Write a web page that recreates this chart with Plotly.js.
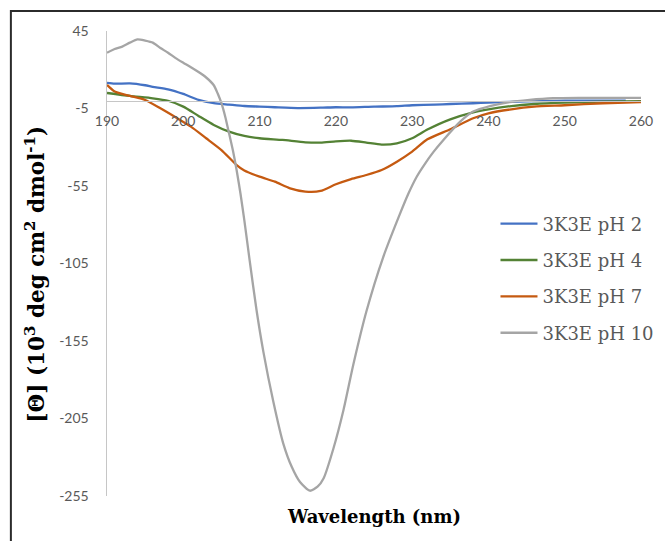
<!DOCTYPE html>
<html>
<head>
<meta charset="utf-8">
<script src="https://cdn.plot.ly/plotly-3.0.1.min.js"></script>
<style>
  html, body { margin: 0; padding: 0; background: #ffffff; }
  #chart { width: 665px; height: 541px; }
</style>
</head>
<body>
<div id="chart"></div>
<script>
// ---- data ----
const seriesNames = ["3K3E pH 2", "3K3E pH 4", "3K3E pH 7", "3K3E pH 10"];
const xTicks = [190, 200, 210, 220, 230, 240, 250, 260];
const yTicks = [45, -5, -55, -105, -155, -205, -255];

const wlPH2 = [190, 191, 193, 195, 196, 198, 200, 202, 204, 206, 208, 210, 212, 215, 218, 220, 222, 225, 228, 230, 233, 235, 238, 240, 243, 245, 248, 250, 255, 258];
const thPH2 = [11.5, 11, 11.2, 10, 9, 7.4, 4.4, 0.5, -1.6, -2.5, -3.4, -3.8, -4.2, -4.7, -4.5, -4.2, -4.3, -3.8, -3.5, -2.9, -2.5, -2.1, -1.6, -1.2, -0.7, -0.4, -0.2, 0, 0, 0];

const wlPH4 = [190, 193, 196, 198, 200, 202, 204, 206, 208, 210, 213, 216, 218, 220, 222, 224, 226, 228, 230, 232, 235, 238, 240, 243, 246, 250, 255, 260];
const thPH4 = [5, 3.1, 1.6, 0, -3.8, -9.8, -15.6, -19.9, -22.7, -24.2, -25.3, -26.8, -27, -26.2, -25.8, -27, -28.3, -27.5, -24.2, -18.6, -12, -7.5, -5.5, -3.4, -2.1, -1.2, -0.6, -0.3];

const wlPH7 = [190, 191, 193, 195, 197, 199, 201, 203, 205, 207, 208, 210, 212, 214, 216, 218, 220, 222, 224, 226, 228, 230, 232, 235, 238, 240, 243, 246, 250, 255, 260];
const thPH7 = [10.2, 5.9, 3.1, 0.5, -4.9, -10.7, -16.7, -24.2, -31.8, -41.5, -45, -49, -52.2, -56.5, -58.6, -58.2, -53.9, -50.5, -47.9, -44.7, -39.3, -32.8, -24.9, -18.4, -11.3, -8.1, -5.5, -3.8, -2.9, -1.6, -0.8];

const wlPH10 = [190, 191, 192, 193, 194, 195, 196, 197, 198, 199, 200, 201, 202, 203, 204, 204.5, 205, 205.5, 206, 206.5, 207, 207.5, 208, 208.7, 209.6, 210.5, 211.8, 213.1, 214.2, 215.3, 216.6, 217.6, 218.4, 219.7, 221, 222.3, 224, 226.2, 228.4, 229.5, 230.6, 231.7, 232.8, 234.1, 236.3, 238, 240.2, 242.4, 245.4, 248.5, 252, 256, 260];
const thPH10 = [31, 33.4, 34.9, 37.5, 39.6, 38.8, 37.5, 34, 31, 27.5, 24.5, 21.6, 18.5, 15, 10, 4.8, -1.6, -10.3, -21, -32, -45, -60, -77, -103, -135, -162, -194, -221, -236, -246, -251.6, -249, -243.5, -224, -199.5, -170, -136, -101, -73, -60, -49, -40.5, -33, -25.3, -13.5, -7, -3.4, -1.2, 0.5, 1.6, 1.8, 1.8, 1.8];

const colors = ["#4472C4", "#548235", "#C55A11", "#A5A5A5"];
const xs = [wlPH2, wlPH4, wlPH7, wlPH10];
const ys = [thPH2, thPH4, thPH7, thPH10];

const traces = seriesNames.map((n, i) => ({
  type: "scatter",
  mode: "lines",
  name: n,
  x: xs[i],
  y: ys[i],
  legendgroup: "g" + i,
  line: { color: colors[i], width: 2.3, shape: "spline", smoothing: 0.6 }
}));

const axisGray = "#c6c6c6";
const tickFont = { family: "Lato, 'Open Sans', sans-serif", size: 14, color: "#595959" };

const layout = {
  width: 665,
  height: 541,
  paper_bgcolor: "#ffffff",
  plot_bgcolor: "#ffffff",
  margin: { l: 107, r: 24, t: 31, b: 45, autoexpand: false },
  showlegend: true,
  legend: {
    x: 0.7275, y: 0.625, xanchor: "left", yanchor: "top",
    font: { family: "'DejaVu Serif', serif", size: 18, color: "#595959" },
    tracegroupgap: 10,
    itemwidth: 37,
    bgcolor: "rgba(0,0,0,0)"
  },
  xaxis: {
    range: [190, 260],
    tickvals: xTicks,
    ticktext: xTicks.map(String),
    anchor: "free",
    position: 0.85,
    showline: true,
    linecolor: axisGray,
    linewidth: 1.5,
    showgrid: false,
    zeroline: false,
    ticks: "",
    tickfont: tickFont,
    ticklabelstandoff: 7,
    automargin: false
  },
  yaxis: {
    range: [-255, 45],
    tickvals: yTicks,
    ticktext: yTicks.map(String),
    showline: true,
    linecolor: axisGray,
    linewidth: 1.5,
    showgrid: false,
    zeroline: false,
    ticks: "",
    tickfont: tickFont,
    ticklabelstandoff: 14,
    automargin: false
  },
  annotations: [
    {
      text: "<b>Wavelength (nm)</b>",
      xref: "paper", yref: "paper",
      x: 0.5, y: -0.017, xanchor: "center", yanchor: "top",
      showarrow: false,
      font: { family: "'DejaVu Serif', serif", size: 18, color: "#000000" }
    },
    {
      text: "<b>[Θ] (10<sup>3</sup> deg cm<sup>2</sup> dmol<sup>-1</sup>)</b>",
      xref: "paper", yref: "paper",
      x: -0.135, y: 0.478, xanchor: "center", yanchor: "middle",
      textangle: -90,
      showarrow: false,
      font: { family: "'DejaVu Serif', serif", size: 21.5, color: "#000000" }
    }
  ],
  shapes: [
    {
      type: "rect", xref: "paper", yref: "paper",
      x0: -0.18, x1: 1.06, y0: -0.11, y1: 1.043,
      line: { color: "#2b2b2b", width: 2 },
      fillcolor: "rgba(0,0,0,0)",
      layer: "below"
    }
  ]
};

Plotly.newPlot("chart", traces, layout, { staticPlot: true, displayModeBar: false });
</script>
</body>
</html>
